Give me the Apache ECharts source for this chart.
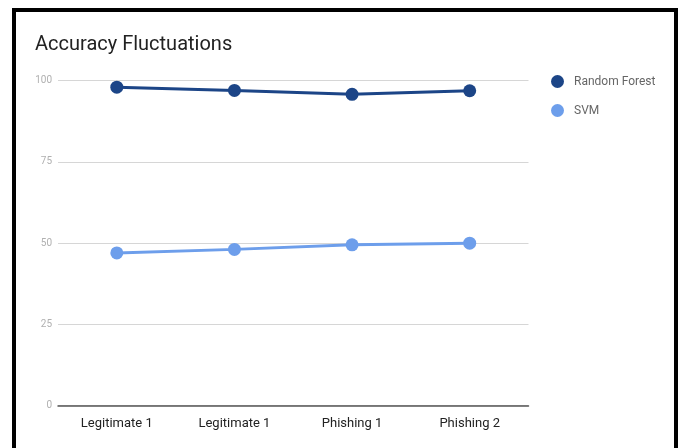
<!DOCTYPE html>
<html>
<head>
<meta charset="utf-8">
<script src="https://cdn.jsdelivr.net/npm/echarts@6/dist/echarts.min.js"></script>
<style>
html,body{margin:0;padding:0;background:#fff;}
#frame{position:absolute;left:12px;top:8px;width:658px;height:460px;border:4px solid #000;box-sizing:content-box;}
#chart{position:absolute;left:0;top:0;width:679px;height:448px;}
</style>
</head>
<body>
<div id="frame"></div>
<div id="chart"></div>
<script>
const categories = ['Legitimate 1', 'Legitimate 1', 'Phishing 1', 'Phishing 2'];
const randomForest = [98.0, 97.0, 95.8, 96.9];
const svm = [47.0, 48.1, 49.5, 50.0];
const yTicks = { min: 0, max: 100, interval: 25 };

const chart = echarts.init(document.getElementById('chart'), null, { renderer: 'canvas' });
chart.setOption({
  backgroundColor: 'transparent',
  animation: false,
  title: {
    text: 'Accuracy Fluctuations',
    left: 30,
    top: 30,
    textStyle: { fontFamily: 'Roboto', fontSize: 20, fontWeight: 'normal', color: '#222' }
  },
  legend: {
    orient: 'vertical',
    left: 546,
    top: 70,
    itemGap: 16,
    itemWidth: 13,
    itemHeight: 13,
    icon: 'circle',
    textStyle: { fontFamily: 'Roboto', fontSize: 12, color: '#666', padding: [0, 0, 0, 5] },
    data: ['Random Forest', 'SVM']
  },
  grid: { left: 58, right: 150.5, top: 80.7, bottom: 42.3, containLabel: false },
  xAxis: {
    type: 'category',
    data: categories,
    boundaryGap: true,
    axisTick: { show: false },
    axisLine: { show: true, lineStyle: { color: '#555', width: 1.5 } },
    axisLabel: { fontFamily: 'Roboto', fontSize: 13, color: '#222', margin: 12 }
  },
  yAxis: {
    type: 'value',
    min: yTicks.min,
    max: yTicks.max,
    interval: yTicks.interval,
    axisLine: { show: false },
    axisTick: { show: false },
    axisLabel: { fontFamily: 'Roboto', fontSize: 10, color: '#b0b0b0', margin: 6 },
    splitLine: { lineStyle: { color: '#d6d6d6', width: 1 } }
  },
  series: [
    {
      name: 'Random Forest',
      type: 'line',
      data: randomForest,
      symbol: 'circle',
      symbolSize: 13,
      color: '#1c4587',
      lineStyle: { width: 3, color: '#1c4587' },
      itemStyle: { color: '#1c4587' }
    },
    {
      name: 'SVM',
      type: 'line',
      data: svm,
      symbol: 'circle',
      symbolSize: 13,
      color: '#6d9eeb',
      lineStyle: { width: 3, color: '#6d9eeb' },
      itemStyle: { color: '#6d9eeb' }
    }
  ]
});
</script>
</body>
</html>
